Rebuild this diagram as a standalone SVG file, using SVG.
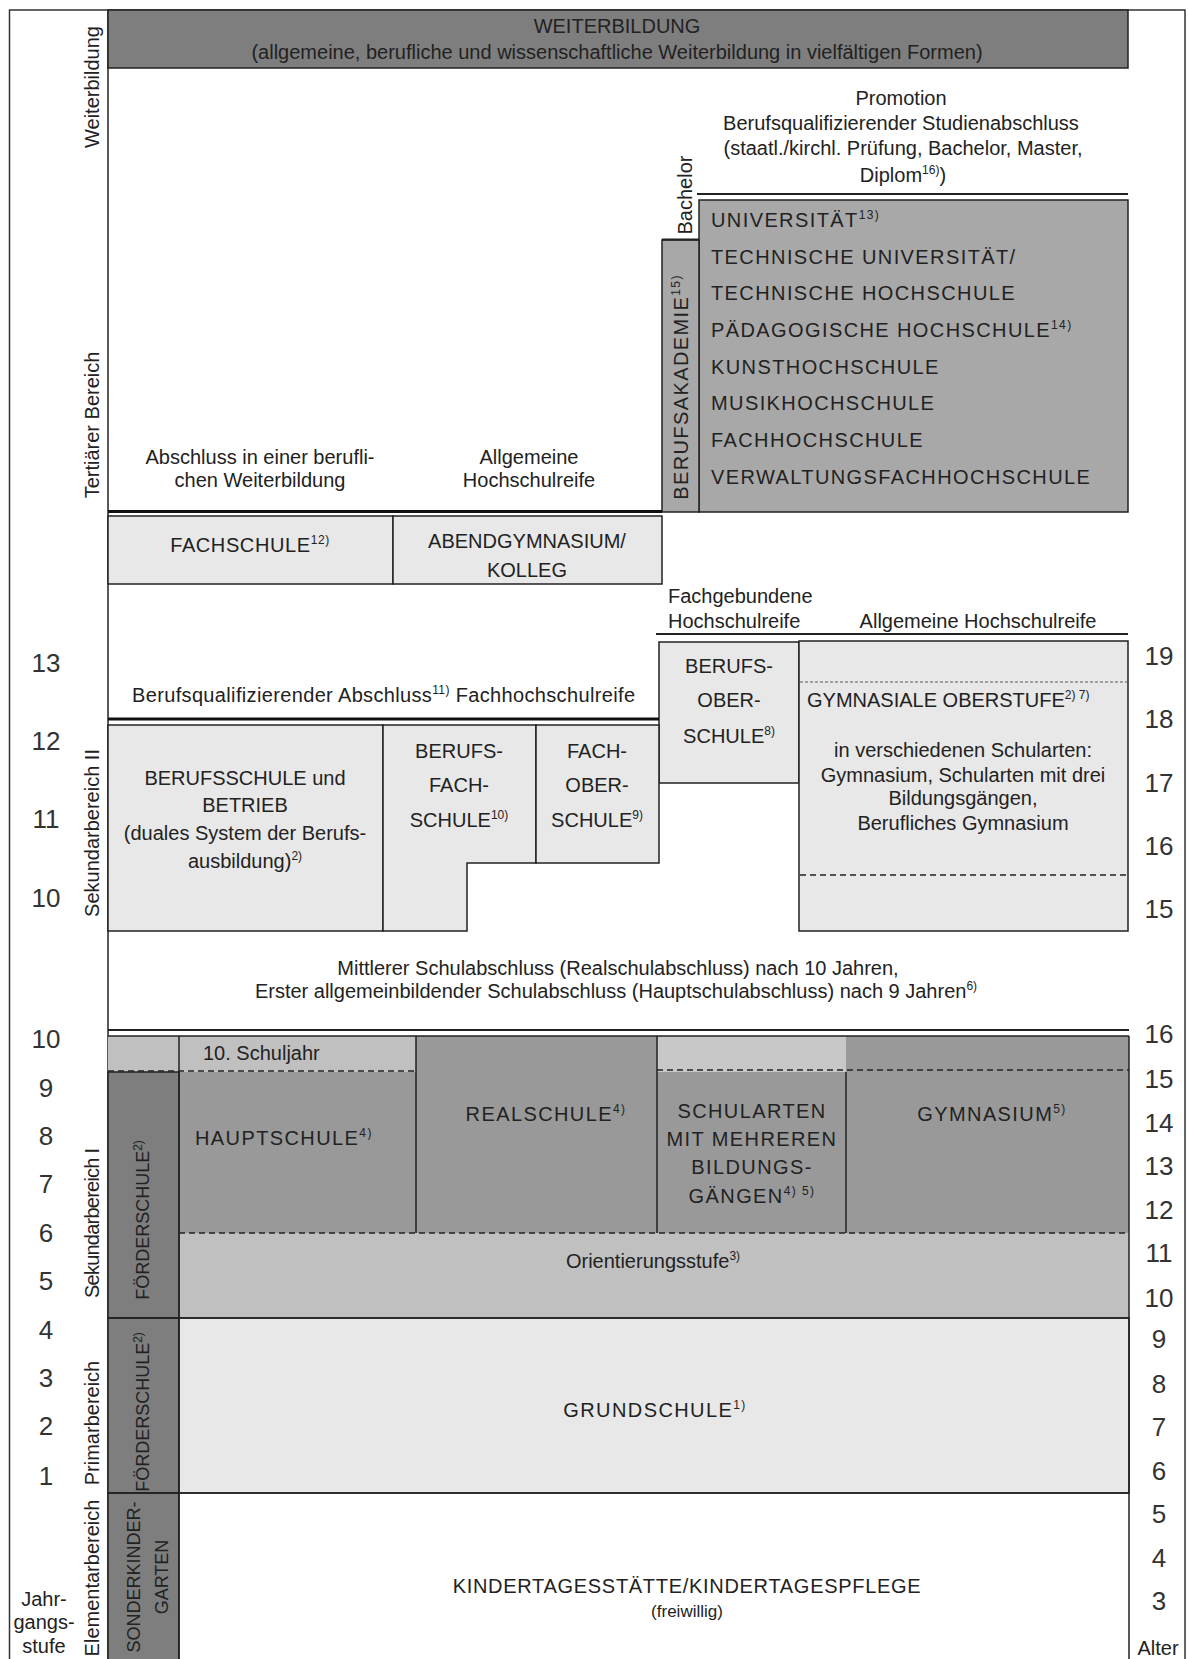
<svg xmlns="http://www.w3.org/2000/svg" width="1188" height="1659" viewBox="0 0 1188 1659">
<style>
text{font-family:"Liberation Sans",Arial,sans-serif;font-size:20px;fill:#222}
.c{text-anchor:middle}
.caps{letter-spacing:1.4px}
.num{font-size:26px;fill:#333;text-anchor:middle}
.sup{font-size:12px}
.ln{stroke:#222;stroke-width:1.5;fill:none}
.thk{stroke:#111;stroke-width:3;fill:none}
.dash{stroke:#222;stroke-width:1.5;stroke-dasharray:6 4;fill:none}
.dot{stroke:#888;stroke-width:1.5;stroke-dasharray:3 2;fill:none}
.bx{stroke:#222;stroke-width:1.5}
.dark{fill:#7e7e7e}
.mid{fill:#a8a8a8}
.sek{fill:#999999}
.pale{fill:#c0c0c0}
.light{fill:#e8e8e8}
</style>

<!-- frame -->
<g id="frame">
<rect x="9.5" y="10" width="1175.5" height="1700" fill="none" stroke="#333" stroke-width="1.5"/>
<line class="ln" x1="108" y1="10" x2="108" y2="1659"/>
</g>

<!-- side labels -->
<g id="side-labels">
<text class="c" transform="translate(99,87) rotate(-90)">Weiterbildung</text>
<text class="c" transform="translate(99,425) rotate(-90)">Tertiärer Bereich</text>
<text class="c" transform="translate(99,833) rotate(-90)">Sekundarbereich II</text>
<text class="c" transform="translate(99,1223) rotate(-90)" textLength="150">Sekundarbereich I</text>
<text class="c" transform="translate(99,1423) rotate(-90)">Primarbereich</text>
<text class="c" transform="translate(99,1578) rotate(-90)">Elementarbereich</text>
</g>

<g id="jahrgangsstufe">
<text class="num" x="46" y="672">13</text>
<text class="num" x="46" y="750">12</text>
<text class="num" x="46" y="828">11</text>
<text class="num" x="46" y="907">10</text>
<text class="num" x="46" y="1048">10</text>
<text class="num" x="46" y="1097">9</text>
<text class="num" x="46" y="1145">8</text>
<text class="num" x="46" y="1193">7</text>
<text class="num" x="46" y="1242">6</text>
<text class="num" x="46" y="1290">5</text>
<text class="num" x="46" y="1339">4</text>
<text class="num" x="46" y="1387">3</text>
<text class="num" x="46" y="1435">2</text>
<text class="num" x="46" y="1485">1</text>
<text class="c" x="44" y="1606">Jahr-</text>
<text class="c" x="44" y="1629">gangs-</text>
<text class="c" x="44" y="1653">stufe</text>
</g>

<g id="alter">
<text class="num" x="1159" y="665">19</text>
<text class="num" x="1159" y="728">18</text>
<text class="num" x="1159" y="792">17</text>
<text class="num" x="1159" y="855">16</text>
<text class="num" x="1159" y="918">15</text>
<text class="num" x="1159" y="1043">16</text>
<text class="num" x="1159" y="1088">15</text>
<text class="num" x="1159" y="1132">14</text>
<text class="num" x="1159" y="1175">13</text>
<text class="num" x="1159" y="1219">12</text>
<text class="num" x="1159" y="1262">11</text>
<text class="num" x="1159" y="1307">10</text>
<text class="num" x="1159" y="1348">9</text>
<text class="num" x="1159" y="1393">8</text>
<text class="num" x="1159" y="1436">7</text>
<text class="num" x="1159" y="1480">6</text>
<text class="num" x="1159" y="1523">5</text>
<text class="num" x="1159" y="1567">4</text>
<text class="num" x="1159" y="1610">3</text>
<text class="c" x="1158" y="1655">Alter</text>
</g>

<!-- Weiterbildung -->
<g id="weiterbildung">
<rect class="bx dark" x="108" y="10" width="1020" height="58"/>
<text class="c" x="617" y="33">WEITERBILDUNG</text>
<text class="c" x="617" y="59">(allgemeine, berufliche und wissenschaftliche Weiterbildung in vielfältigen Formen)</text>
</g>

<g id="abschluss-hochschule">
<text class="c" x="901" y="105">Promotion</text>
<text class="c" x="901" y="130">Berufsqualifizierender Studienabschluss</text>
<text class="c" x="903" y="155">(staatl./kirchl. Prüfung, Bachelor, Master,</text>
<text class="c" x="903" y="182">Diplom<tspan class="sup" dy="-8">16)</tspan><tspan dy="8">)</tspan></text>
</g>

<g id="bachelor">
<text class="c" transform="translate(692,195) rotate(-90)">Bachelor</text>
</g>

<g id="hochschulen">
<rect class="bx mid" x="699" y="200" width="429" height="312"/>
<text class="caps" x="711" y="227">UNIVERSITÄT<tspan class="sup" dy="-8">13)</tspan></text>
<text class="caps" x="711" y="264">TECHNISCHE UNIVERSITÄT/</text>
<text class="caps" x="711" y="300">TECHNISCHE HOCHSCHULE</text>
<text class="caps" x="711" y="337">PÄDAGOGISCHE HOCHSCHULE<tspan class="sup" dy="-8">14)</tspan></text>
<text class="caps" x="711" y="374">KUNSTHOCHSCHULE</text>
<text class="caps" x="711" y="410">MUSIKHOCHSCHULE</text>
<text class="caps" x="711" y="447">FACHHOCHSCHULE</text>
<text class="caps" x="711" y="484">VERWALTUNGSFACHHOCHSCHULE</text>
</g>

<g id="berufsakademie">
<rect class="bx mid" x="662" y="240" width="37" height="272"/>
<text class="c caps" transform="translate(688,387) rotate(-90)">BERUFSAKADEMIE<tspan class="sup" dy="-8">15)</tspan></text>
</g>

<g id="abschluesse-tertiaer">
<text class="c" x="260" y="464">Abschluss in einer berufli-</text>
<text class="c" x="260" y="487">chen Weiterbildung</text>
<text class="c" x="529" y="464">Allgemeine</text>
<text class="c" x="529" y="487">Hochschulreife</text>
</g>

<g id="fachschule">
<rect class="bx light" x="108" y="516" width="285" height="68"/>
<text class="c" x="250" y="552" style="letter-spacing:0.6px">FACHSCHULE<tspan class="sup" dy="-8">12)</tspan></text>
</g>

<g id="abendgymnasium">
<rect class="bx light" x="393" y="516" width="269" height="68"/>
<text class="c" x="527" y="548">ABENDGYMNASIUM/</text>
<text class="c" x="527" y="577">KOLLEG</text>
</g>

<g id="abschluesse-sek2">
<text x="668" y="603">Fachgebundene</text>
<text x="668" y="628">Hochschulreife</text>
<text class="c" x="978" y="628">Allgemeine Hochschulreife</text>
<text x="132" y="702" textLength="503">Berufsqualifizierender Abschluss<tspan class="sup" dy="-8">11)</tspan><tspan dy="8"> Fachhochschulreife</tspan></text>
</g>

<g id="berufsoberschule">
<rect class="bx light" x="659" y="642" width="140" height="141"/>
<text class="c" x="729" y="673">BERUFS-</text>
<text class="c" x="729" y="707">OBER-</text>
<text class="c" x="729" y="743">SCHULE<tspan class="sup" dy="-8">8)</tspan></text>
</g>

<g id="gymnasiale-oberstufe">
<rect class="bx light" x="799" y="641" width="329" height="290"/>
<line class="dot" x1="800" y1="682" x2="1127" y2="682"/>
<line class="dash" x1="800" y1="875" x2="1127" y2="875"/>
<text x="807" y="707">GYMNASIALE OBERSTUFE<tspan class="sup" dy="-8">2) 7)</tspan></text>
<text class="c" x="963" y="757">in verschiedenen Schularten:</text>
<text class="c" x="963" y="782">Gymnasium, Schularten mit drei</text>
<text class="c" x="963" y="805">Bildungsgängen,</text>
<text class="c" x="963" y="830">Berufliches Gymnasium</text>
</g>

<g id="berufsschule">
<rect class="bx light" x="108" y="725" width="275" height="206"/>
<text class="c" x="245" y="785">BERUFSSCHULE und</text>
<text class="c" x="245" y="812">BETRIEB</text>
<text class="c" x="245" y="840">(duales System der Berufs-</text>
<text class="c" x="245" y="868">ausbildung)<tspan class="sup" dy="-8">2)</tspan></text>
</g>

<g id="berufsfachschule">
<polygon class="bx light" points="383,725 536,725 536,863 467,863 467,931 383,931"/>
<text class="c" x="459" y="758">BERUFS-</text>
<text class="c" x="459" y="792">FACH-</text>
<text class="c" x="459" y="827">SCHULE<tspan class="sup" dy="-8">10)</tspan></text>
</g>

<g id="fachoberschule">
<rect class="bx light" x="536" y="725" width="123" height="138"/>
<text class="c" x="597" y="758">FACH-</text>
<text class="c" x="597" y="792">OBER-</text>
<text class="c" x="597" y="827">SCHULE<tspan class="sup" dy="-8">9)</tspan></text>
</g>

<g id="abschluesse-sek1">
<text class="c" x="618" y="975">Mittlerer Schulabschluss (Realschulabschluss) nach 10 Jahren,</text>
<text class="c" x="616" y="998">Erster allgemeinbildender Schulabschluss (Hauptschulabschluss) nach 9 Jahren<tspan class="sup" dy="-8">6)</tspan></text>
</g>

<g id="sek1">
<rect class="pale" x="108" y="1036" width="71" height="36"/>
<rect class="pale" x="179" y="1036" width="237" height="36"/>
<rect class="sek" x="179" y="1072" width="237" height="161"/>
<rect class="sek" x="416" y="1036" width="241" height="197"/>
<rect fill="#c8c8c8" x="657" y="1036" width="189" height="36"/>
<rect class="sek" x="657" y="1072" width="189" height="161"/>
<rect class="sek" x="846" y="1036" width="283" height="197"/>
<rect class="pale" x="179" y="1233" width="950" height="85"/>
</g>

<g id="foerderschule-sek1">
<rect class="bx dark" x="108" y="1072" width="71" height="246"/>
<text class="c" style="font-size:18px" transform="translate(149,1220) rotate(-90)">FÖRDERSCHULE<tspan class="sup" dy="-7">2)</tspan></text>
</g>

<g id="hauptschule">
<text x="203" y="1060">10. Schuljahr</text>
<text class="caps" x="195" y="1145">HAUPTSCHULE<tspan class="sup" dy="-8">4)</tspan></text>
</g>
<g id="realschule">
<text class="c caps" x="546" y="1121">REALSCHULE<tspan class="sup" dy="-8">4)</tspan></text>
</g>
<g id="schularten">
<text class="c caps" x="752" y="1118">SCHULARTEN</text>
<text class="c caps" x="752" y="1146">MIT MEHREREN</text>
<text class="c caps" x="752" y="1174">BILDUNGS-</text>
<text class="c caps" x="752" y="1203">GÄNGEN<tspan class="sup" dy="-8">4) 5)</tspan></text>
</g>
<g id="gymnasium">
<text class="c caps" x="992" y="1121">GYMNASIUM<tspan class="sup" dy="-8">5)</tspan></text>
</g>
<g id="orientierungsstufe">
<text class="c" x="653" y="1268">Orientierungsstufe<tspan class="sup" dy="-8">3)</tspan></text>
</g>

<g id="foerderschule-primar">
<rect class="bx dark" x="108" y="1318" width="71" height="175"/>
<text class="c" style="font-size:18px" transform="translate(149,1412) rotate(-90)">FÖRDERSCHULE<tspan class="sup" dy="-7">2)</tspan></text>
</g>

<g id="grundschule">
<rect class="bx light" x="179" y="1318" width="950" height="175"/>
<text class="c caps" x="655" y="1417">GRUNDSCHULE<tspan class="sup" dy="-8">1)</tspan></text>
</g>

<g id="sonderkindergarten">
<rect class="bx dark" x="108" y="1493" width="71" height="200"/>
<text class="c" style="font-size:18px" transform="translate(140,1577) rotate(-90)">SONDERKINDER-</text>
<text class="c" style="font-size:18px" transform="translate(168,1577) rotate(-90)">GARTEN</text>
</g>

<g id="kindertagesstaette">
<text class="c" x="687" y="1593" style="letter-spacing:0.7px">KINDERTAGESSTÄTTE/KINDERTAGESPFLEGE</text>
<text class="c" style="font-size:17px" x="687" y="1617">(freiwillig)</text>
</g>

<!-- separator lines -->
<g id="connectors">
<line class="ln" x1="697" y1="194" x2="1128" y2="194" style="stroke-width:2"/>
<line class="ln" x1="662" y1="239.5" x2="699" y2="239.5" style="stroke-width:2"/>
<line class="thk" x1="108" y1="511.5" x2="662" y2="511.5"/>
<line class="ln" x1="656" y1="634" x2="1128" y2="634" style="stroke-width:2"/>
<line class="thk" x1="108" y1="719" x2="659" y2="719"/>
<line class="ln" x1="108" y1="1030" x2="1129" y2="1030" style="stroke-width:2"/>
<line class="ln" x1="108" y1="1036" x2="1129" y2="1036"/>
<line class="ln" x1="1129" y1="1036" x2="1129" y2="1659"/>
<line class="ln" x1="179" y1="1036" x2="179" y2="1659"/>
<line class="ln" x1="416" y1="1036" x2="416" y2="1233"/>
<line class="ln" x1="657" y1="1036" x2="657" y2="1233"/>
<line class="ln" x1="846" y1="1072" x2="846" y2="1233"/>
<line class="dash" x1="108" y1="1071" x2="416" y2="1071"/>
<line class="dash" x1="657" y1="1070" x2="1129" y2="1070"/>
<line class="dash" x1="179" y1="1233" x2="1129" y2="1233"/>
<line class="ln" x1="108" y1="1318" x2="1129" y2="1318"/>
<line class="ln" x1="108" y1="1493" x2="1129" y2="1493"/>
</g>
</svg>
